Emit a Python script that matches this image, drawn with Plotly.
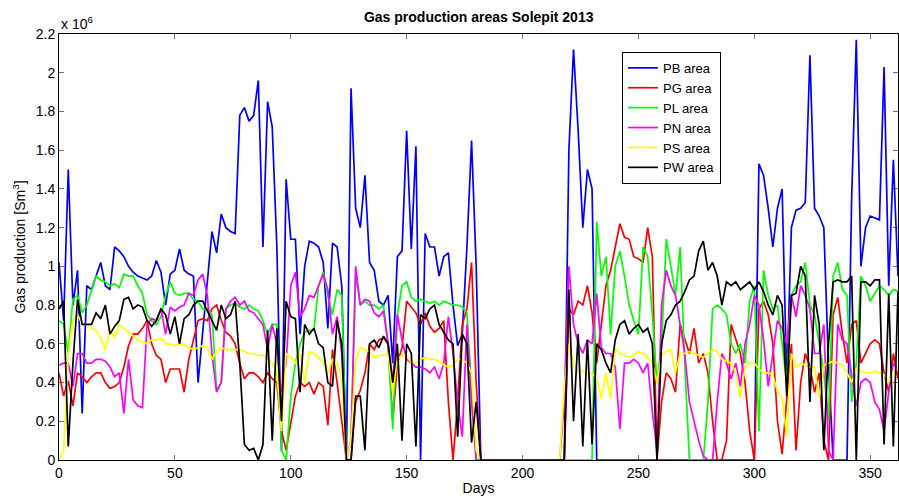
import plotly.graph_objects as go

# Daily gas production per area, sampled every second day (units of 10^6 Sm3)
days = list(range(0, 363, 2))

pb_area = [
    1.02, 0.72, 1.50, 0.80, 0.98, 0.24, 0.90, 0.88, 0.95, 1.02,
    0.90, 0.88, 1.10, 1.08, 1.05, 1.00, 0.97, 0.95, 0.94, 0.93,
    0.95, 1.03, 0.97, 0.80, 0.96, 0.98, 1.09, 0.98, 0.96, 0.95,
    0.40, 0.67, 0.95, 1.18, 1.07, 1.27, 1.20, 1.18, 1.17, 1.78,
    1.82, 1.75, 1.78, 1.96, 1.10, 1.85, 1.72, 1.10, 0.05, 1.45,
    1.14, 1.14, 0.65, 1.00, 1.13, 1.12, 1.10, 1.02, 0.68, 1.12,
    1.10, 0.90, 0.00, 1.92, 1.30, 1.20, 1.47, 1.02, 0.98, 0.82,
    0.80, 0.85, 0.50, 1.05, 1.08, 1.70, 1.09, 1.62, 0.00, 1.17,
    1.10, 1.10, 0.95, 1.05, 1.07, 0.80, 0.59, 0.65, 1.10, 1.65,
    1.00, 0.00, 0.00, 0.00, 0.00, 0.00, 0.00, 0.00, 0.00, 0.00,
    0.00, 0.00, 0.00, 0.00, 0.00, 0.00, 0.00, 0.00, 0.00, 0.00,
    1.60, 2.12, 1.70, 1.20, 1.50, 1.40, 0.00, 0.00, 0.00, 0.00,
    0.00, 0.00, 0.00, 0.00, 0.00, 0.00, 0.00, 0.00, 0.00, 0.00,
    0.00, 0.00, 0.00, 0.00, 0.00, 0.00, 0.00, 0.00, 0.00, 0.00,
    0.00, 0.00, 0.00, 0.00, 0.00, 0.00, 0.00, 0.00, 0.00, 0.00,
    0.00, 1.53, 1.47, 1.30, 1.10, 1.30, 1.40, 0.40, 1.20, 1.29,
    1.30, 1.33, 2.09, 1.30, 1.26, 1.20, 0.50, 0.00, 0.00, 0.00,
    0.00, 1.35, 2.17, 1.00, 1.20, 1.26, 1.25, 1.24, 2.03, 0.90,
    1.55, 0.95,
]

pg_area = [
    0.45, 0.33, 0.41, 0.28, 0.45, 0.43, 0.40, 0.43, 0.45, 0.45,
    0.40, 0.37, 0.38, 0.40, 0.48, 0.59, 0.65, 0.65, 0.68, 0.72,
    0.60, 0.54, 0.52, 0.40, 0.47, 0.47, 0.47, 0.35, 0.52, 0.62,
    0.72, 0.73, 0.72, 0.78, 0.80, 0.72, 0.66, 0.64, 0.60, 0.50,
    0.42, 0.45, 0.45, 0.43, 0.40, 0.45, 0.42, 0.40, 0.15, 0.05,
    0.20, 0.33, 0.40, 0.38, 0.40, 0.34, 0.40, 0.38, 0.18, 0.57,
    0.40, 0.20, 0.00, 0.00, 0.30, 0.36, 0.45, 0.60, 0.57, 0.62,
    0.63, 0.60, 0.20, 0.50, 0.58, 0.82, 0.79, 0.76, 0.70, 0.76,
    0.69, 0.66, 0.68, 0.72, 0.30, 0.00, 0.30, 0.70, 0.78, 1.02,
    0.40, 0.00, 0.00, 0.00, 0.00, 0.00, 0.00, 0.00, 0.00, 0.00,
    0.00, 0.00, 0.00, 0.00, 0.00, 0.00, 0.00, 0.00, 0.00, 0.00,
    0.78, 0.75, 0.82, 0.80, 0.90, 0.76, 0.50, 0.70, 0.90, 0.98,
    1.10, 1.22, 1.15, 1.14, 1.05, 1.04, 1.02, 1.20, 1.05, 0.00,
    0.30, 0.45, 0.42, 0.35, 0.70, 0.62, 0.55, 0.68, 0.50, 0.55,
    0.45, 0.20, 0.00, 0.00, 0.10, 0.70, 0.62, 0.55, 0.40, 0.15,
    0.00, 0.78, 0.82, 0.75, 0.60, 0.20, 0.03, 0.30, 0.60, 0.05,
    0.40, 0.55, 0.48, 0.35, 0.45, 0.10, 0.00, 0.75, 0.84, 0.65,
    0.50, 0.70, 0.72, 0.50, 0.55, 0.60, 0.62, 0.60, 0.45, 0.35,
    0.55, 0.42,
]

pl_area = [
    0.72, 0.70, 0.55, 0.83, 0.85, 0.76, 0.80, 0.87, 0.95, 0.93,
    0.92, 0.90, 0.91, 0.89, 0.96, 0.95, 0.95, 0.90, 0.86, 0.75,
    0.72, 0.70, 0.74, 0.85, 0.92, 0.86, 0.85, 0.86, 0.86, 0.83,
    0.82, 0.78, 0.78, 0.75, 0.36, 0.40, 0.78, 0.80, 0.81, 0.79,
    0.78, 0.80, 0.78, 0.77, 0.72, 0.65, 0.70, 0.70, 0.05, 0.00,
    0.33, 0.50, 0.60, 0.66, 0.67, 0.67, 0.90, 0.97, 0.85, 0.75,
    0.88, 0.85, 0.00, 0.10, 0.95, 0.80, 0.82, 0.80, 0.80, 0.78,
    0.80, 0.60, 0.16, 0.75, 0.90, 0.92, 0.84, 0.82, 0.83, 0.82,
    0.81, 0.82, 0.80, 0.82, 0.81, 0.80, 0.80, 0.79, 0.76, 0.40,
    0.00, 0.00, 0.00, 0.00, 0.00, 0.00, 0.00, 0.00, 0.00, 0.00,
    0.00, 0.00, 0.00, 0.00, 0.00, 0.00, 0.00, 0.00, 0.00, 0.00,
    0.00, 0.00, 0.00, 0.00, 0.00, 0.00, 1.23, 0.95, 1.05, 0.65,
    1.00, 1.08, 0.95, 0.80, 0.72, 0.65, 1.10, 1.05, 0.75, 0.40,
    0.60, 1.14, 1.00, 0.85, 1.10, 0.50, 0.00, 0.00, 0.00, 0.00,
    0.30, 0.78, 0.80, 0.78, 0.75, 0.60, 0.55, 0.60, 0.50, 0.82,
    0.90, 0.15, 0.98, 0.85, 0.78, 0.80, 0.60, 0.40, 0.85, 0.90,
    0.92, 1.02, 0.80, 0.75, 0.60, 0.45, 0.20, 0.95, 1.02, 0.88,
    0.85, 0.30, 0.50, 0.95, 0.90, 0.82, 0.86, 0.90, 0.88, 0.85,
    0.88, 0.87,
]

pn_area = [
    0.49, 0.50, 0.50, 0.38, 0.55, 0.55, 0.50, 0.50, 0.52, 0.52,
    0.51, 0.48, 0.43, 0.45, 0.24, 0.52, 0.31, 0.28, 0.27, 0.70,
    0.73, 0.72, 0.78, 0.65, 0.79, 0.77, 0.79, 0.80, 0.86, 0.85,
    0.93, 0.96, 0.85, 0.55, 0.35, 0.40, 0.78, 0.82, 0.84, 0.80,
    0.82, 0.77, 0.76, 0.73, 0.70, 0.57, 0.70, 0.60, 0.35, 0.50,
    0.90, 0.97, 0.74, 0.78, 0.85, 0.84, 0.90, 0.96, 0.88, 0.65,
    0.74, 0.55, 0.00, 0.10, 1.00, 0.80, 0.83, 0.82, 0.76, 0.74,
    0.77, 0.60, 0.40, 0.75, 0.62, 0.52, 0.50, 0.48, 0.48, 0.47,
    0.45, 0.48, 0.42, 0.50, 0.74, 0.55, 0.30, 0.12, 0.70, 0.30,
    0.00, 0.00, 0.00, 0.00, 0.00, 0.00, 0.00, 0.00, 0.00, 0.00,
    0.00, 0.00, 0.00, 0.00, 0.00, 0.00, 0.00, 0.00, 0.00, 0.30,
    1.00, 0.70, 0.60, 0.55, 0.62, 0.60, 0.86, 0.58, 0.55, 0.55,
    0.48, 0.16, 0.50, 0.50, 0.52, 0.50, 0.45, 0.50, 0.25, 0.05,
    0.80, 0.98, 0.90, 0.85, 0.70, 0.55, 0.30, 0.20, 0.10, 0.02,
    0.00, 0.00, 0.30, 0.55, 0.50, 0.42, 0.50, 0.38, 0.60, 0.70,
    0.85, 0.80, 0.62, 0.38, 0.55, 0.72, 0.68, 0.60, 0.85, 0.74,
    0.90, 0.85, 0.78, 0.55, 0.55, 0.70, 0.05, 0.00, 0.70, 0.62,
    0.60, 0.45, 0.28, 0.40, 0.42, 0.40, 0.30, 0.26, 0.15, 0.35,
    0.50, 0.46,
]

ps_area = [
    0.00, 0.05, 0.55, 0.72, 0.75, 0.70, 0.70, 0.68, 0.67, 0.63,
    0.57, 0.68, 0.63, 0.70, 0.68, 0.66, 0.64, 0.62, 0.61, 0.60,
    0.62, 0.62, 0.63, 0.60, 0.60, 0.59, 0.60, 0.60, 0.58, 0.57,
    0.58, 0.59, 0.58, 0.52, 0.56, 0.58, 0.57, 0.57, 0.57, 0.57,
    0.56, 0.55, 0.55, 0.54, 0.54, 0.53, 0.50, 0.45, 0.15, 0.55,
    0.53, 0.50, 0.55, 0.40, 0.56, 0.55, 0.53, 0.50, 0.45, 0.52,
    0.50, 0.42, 0.00, 0.10, 0.52, 0.58, 0.57, 0.56, 0.53, 0.54,
    0.54, 0.55, 0.35, 0.52, 0.54, 0.54, 0.50, 0.50, 0.52, 0.53,
    0.52, 0.52, 0.51, 0.49, 0.48, 0.49, 0.52, 0.52, 0.50, 0.45,
    0.05, 0.00, 0.00, 0.00, 0.00, 0.00, 0.00, 0.00, 0.00, 0.00,
    0.00, 0.00, 0.00, 0.00, 0.00, 0.00, 0.00, 0.00, 0.00, 0.38,
    0.60, 0.50, 0.45, 0.46, 0.44, 0.45, 0.42, 0.32, 0.45, 0.32,
    0.58, 0.55, 0.54, 0.53, 0.54, 0.56, 0.55, 0.53, 0.50, 0.40,
    0.54, 0.56, 0.57, 0.45, 0.55, 0.55, 0.56, 0.55, 0.54, 0.53,
    0.55, 0.57, 0.56, 0.52, 0.51, 0.50, 0.45, 0.32, 0.48, 0.50,
    0.50, 0.47, 0.45, 0.45, 0.44, 0.35, 0.32, 0.12, 0.55, 0.48,
    0.50, 0.49, 0.48, 0.48, 0.32, 0.49, 0.50, 0.51, 0.50, 0.49,
    0.45, 0.40, 0.47, 0.46, 0.45, 0.45, 0.46, 0.45, 0.44, 0.40,
    0.46, 0.47,
]

pw_area = [
    0.78, 0.82, 0.07, 0.50, 0.83, 0.70, 0.70, 0.70, 0.76, 0.73,
    0.80, 0.65, 0.69, 0.72, 0.83, 0.84, 0.78, 0.80, 0.79, 0.72,
    0.69, 0.72, 0.78, 0.75, 0.65, 0.74, 0.60, 0.73, 0.75, 0.80,
    0.82, 0.82, 0.77, 0.72, 0.67, 0.80, 0.73, 0.75, 0.82, 0.50,
    0.08, 0.05, 0.06, 0.00, 0.08, 0.67, 0.10, 0.68, 0.20, 0.82,
    0.74, 0.73, 0.35, 0.70, 0.65, 0.68, 0.60, 0.58, 0.40, 0.38,
    0.72, 0.60, 0.00, 0.00, 0.33, 0.33, 0.05, 0.60, 0.62, 0.58,
    0.64, 0.60, 0.40, 0.60, 0.10, 0.60, 0.55, 0.07, 0.75, 0.73,
    0.78, 0.80, 0.70, 0.66, 0.62, 0.60, 0.12, 0.65, 0.60, 0.09,
    0.30, 0.00, 0.00, 0.00, 0.00, 0.00, 0.00, 0.00, 0.00, 0.00,
    0.00, 0.00, 0.00, 0.00, 0.00, 0.00, 0.00, 0.00, 0.00, 0.00,
    0.88, 0.20, 0.65, 0.07, 0.62, 0.08, 0.60, 0.57, 0.50, 0.45,
    0.62, 0.70, 0.72, 0.65, 0.68, 0.70, 0.66, 0.68, 0.60, 0.00,
    0.60, 0.72, 0.75, 0.80, 0.82, 0.87, 0.93, 0.95, 1.08, 1.13,
    0.98, 1.02, 0.95, 0.80, 0.92, 0.90, 0.92, 0.88, 0.90, 0.92,
    0.88, 0.92, 0.87, 0.80, 0.75, 0.85, 0.80, 0.33, 0.85, 0.86,
    1.00, 0.95, 0.30, 0.85, 0.70, 0.05, 0.60, 0.92, 0.93, 0.92,
    0.92, 0.95, 0.00, 0.92, 0.92, 0.90, 0.93, 0.93, 0.08, 0.86,
    0.07, 0.87,
]

series_names = ["PB area", "PG area", "PL area", "PN area", "PS area", "PW area"]
series_values = [pb_area, pg_area, pl_area, pn_area, ps_area, pw_area]
series_colors = ["#0000ff", "#ff0000", "#00ff00", "#ff00ff", "#ffff00", "#000000"]

x_ticks = [0, 50, 100, 150, 200, 250, 300, 350]
y_ticks = [0, 0.2, 0.4, 0.6, 0.8, 1.0, 1.2, 1.4, 1.6, 1.8, 2.0, 2.2]
y_tick_labels = ["0", "0.2", "0.4", "0.6", "0.8", "1", "1.2", "1.4", "1.6", "1.8", "2", "2.2"]

FONT = "Liberation Sans, Arial, Helvetica, sans-serif"

fig = go.Figure()
for name, vals, col in zip(series_names, series_values, series_colors):
    fig.add_trace(go.Scatter(
        x=days, y=vals, mode="lines", name=name,
        line=dict(color=col, width=1.7),
    ))

axis_common = dict(
    showline=True, linecolor="#000000", linewidth=1, mirror="ticks",
    ticks="inside", ticklen=5, tickcolor="#6e6e6e", tickwidth=1,
    showgrid=False, zeroline=False, layer="below traces",
    tickfont=dict(family=FONT, size=14, color="#000000"),
)

fig.update_layout(
    width=899, height=496,
    margin=dict(l=59, r=1, t=34, b=36),
    paper_bgcolor="white", plot_bgcolor="white",
    font=dict(family=FONT, size=14, color="#000000"),
    title=dict(
        text="<b>Gas production areas Solepit 2013</b>",
        x=0.5325, xanchor="center", y=1 - 17 / 496, yanchor="middle",
        font=dict(family=FONT, size=14, color="#000000"),
    ),
    xaxis=dict(
        range=[0, 362], tickvals=x_ticks,
        title=dict(text="Days", font=dict(family=FONT, size=14), standoff=4),
        **axis_common,
    ),
    yaxis=dict(
        range=[0, 2.2], tickvals=y_ticks, ticktext=y_tick_labels,
        title=dict(text="Gas production [Sm<sup>3</sup>]", font=dict(family=FONT, size=14), standoff=6),
        **axis_common,
    ),
    legend=dict(
        x=0.671, y=0.958, xanchor="left", yanchor="top",
        bgcolor="white", bordercolor="#000000", borderwidth=1,
        font=dict(family=FONT, size=13, color="#000000"),
        tracegroupgap=0, itemwidth=30,
    ),
    showlegend=True,
)

fig.add_annotation(
    text="x 10<sup>6</sup>", xref="paper", yref="paper",
    x=0, y=1, xanchor="left", yanchor="bottom", showarrow=False,
    font=dict(family=FONT, size=14, color="#000000"), yshift=0,
)

fig.write_html("out.html")
